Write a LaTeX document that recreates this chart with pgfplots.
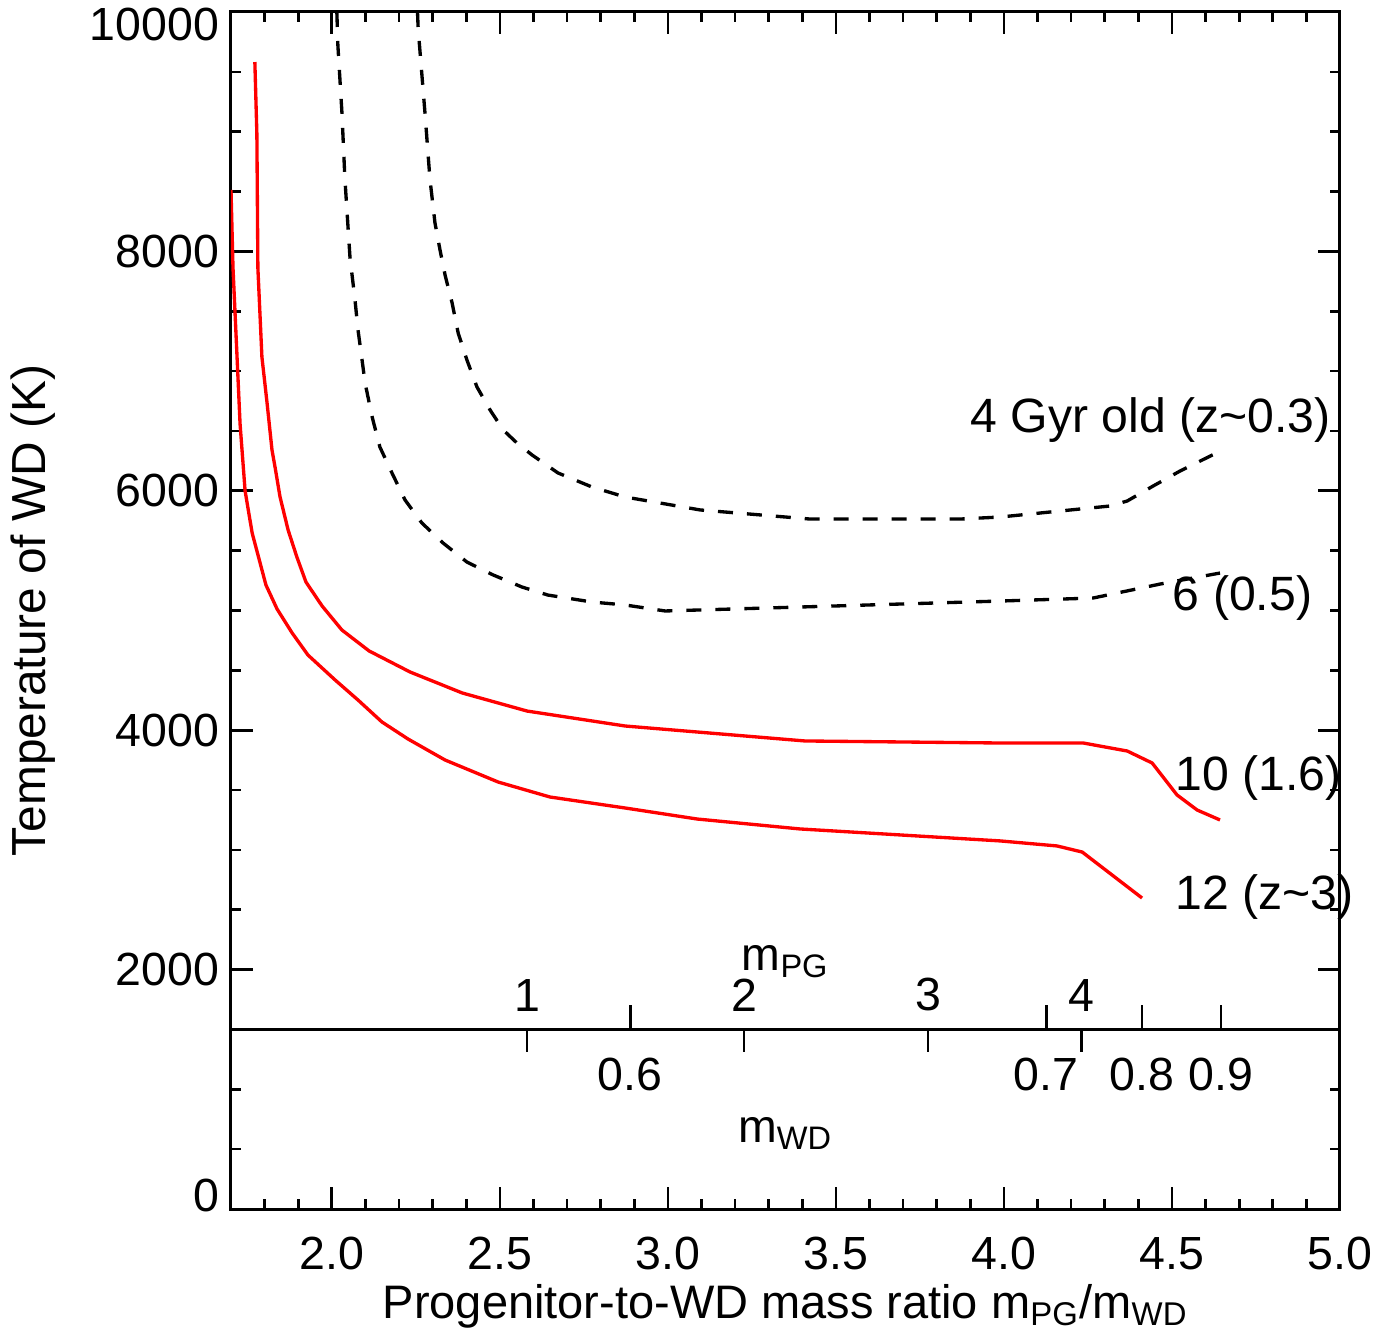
\documentclass[border=0pt]{standalone}
\usepackage{fontspec}
\setmainfont{Liberation Sans}
\usepackage{pgfplots}
\pgfplotsset{compat=1.18}

\begin{document}
\begin{tikzpicture}[font=\fontsize{14}{16.8}\selectfont]
\begin{axis}[
  scale only axis, width=332.7bp, height=359.1bp,
  xmin=1.7, xmax=5, ymin=0, ymax=10000,
  clip mode=individual,
  xtick={2,2.5,3,3.5,4,4.5,5},
  minor xtick={1.8,1.9,2.1,2.2,2.3,2.4,2.6,2.7,2.8,2.9,3.1,3.2,3.3,3.4,3.6,3.7,3.8,3.9,4.1,4.2,4.3,4.4,4.6,4.7,4.8,4.9},
  ytick={0,2000,4000,6000,8000,10000},
  minor ytick={500,1000,1500,2500,3000,3500,4500,5000,5500,6500,7000,7500,8500,9000,9500},
  scaled y ticks=false,
  /pgf/number format/assume math mode=true,
  /pgf/number format/1000 sep={},
  xticklabel style={yshift=-4.9bp, /pgf/number format/.cd, fixed, fixed zerofill, precision=1},
  yticklabel={\ifnum\ticknum=0 \raisebox{4.2bp}[\height][\depth]{0}\else\ifnum\ticknum=5 \raisebox{-3.9bp}[\height][\depth]{10000}\else\pgfmathprintnumber{\tick}\fi\fi},
  major tick length=6.5bp, minor tick length=3bp,
  every tick/.append style={black, line width=0.8bp},
  axis line style={line width=0.9bp},
  xlabel={Progenitor-to-WD mass ratio m\textsubscript{PG}/m\textsubscript{WD}},
  ylabel={Temperature of WD (K)},
  every axis x label/.style={at={(axis description cs:0.5,-0.0911)}, anchor=base, font=\fontsize{14.15}{17}\selectfont},
  every axis y label/.style={at={(axis description cs:-0.1785,0.5)}, anchor=center, rotate=90, font=\fontsize{14.4}{17}\selectfont},
]
% 12 Gyr (z~3)
\addplot[red, line width=1bp] coordinates {
(1.700,8513) (1.706,7861) (1.718,7118) (1.727,6558) (1.742,5998) (1.763,5647)
(1.804,5213) (1.837,5013) (1.882,4812) (1.929,4628) (2.010,4419) (2.078,4252)
(2.149,4069) (2.227,3926) (2.337,3751) (2.495,3567) (2.649,3442) (2.873,3350)
(3.087,3258) (3.393,3175) (3.989,3075) (4.158,3033) (4.233,2982) (4.411,2598)
};
% 10 Gyr (1.6)
\addplot[red, line width=1bp] coordinates {
(1.771,9582) (1.777,8981) (1.780,7861) (1.792,7118) (1.807,6742) (1.822,6341)
(1.831,6199) (1.846,5948) (1.870,5672) (1.896,5447) (1.923,5238) (1.971,5038)
(2.030,4837) (2.111,4662) (2.233,4486) (2.388,4311) (2.581,4160) (2.873,4035)
(3.408,3910) (3.989,3893) (4.236,3893) (4.367,3826) (4.441,3726) (4.515,3459)
(4.575,3333) (4.643,3250)
};
% 6 Gyr (0.5)
\addplot[black, line width=1bp, dash pattern=on 4.5bp off 4.2bp] coordinates {
(2.015,10000) (2.018,9724) (2.030,9165) (2.039,8605) (2.054,7953) (2.069,7594)
(2.078,7343) (2.090,7093) (2.099,6901) (2.120,6617) (2.143,6366) (2.179,6149)
(2.218,5923) (2.268,5731) (2.331,5564) (2.402,5405) (2.480,5297) (2.566,5196)
(2.643,5129) (2.774,5071) (2.873,5046) (2.992,4996) (3.393,5029) (3.989,5079)
(4.265,5104) (4.465,5221) (4.643,5313)
};
% 4 Gyr (0.3)
\addplot[black, line width=1bp, dash pattern=on 4.5bp off 4.2bp] coordinates {
(2.255,10000) (2.257,9858) (2.277,9165) (2.292,8605) (2.307,8237) (2.322,8012)
(2.337,7803) (2.358,7569) (2.376,7318) (2.402,7093) (2.432,6867) (2.471,6675)
(2.510,6508) (2.551,6399) (2.596,6299) (2.673,6149) (2.774,6032) (2.873,5948)
(3.096,5840) (3.423,5764) (3.870,5764) (3.989,5781) (4.316,5873) (4.367,5915)
(4.444,6040) (4.524,6165) (4.638,6324)
};
\node[anchor=base west, inner sep=0pt, font=\fontsize{14.5}{17}\selectfont] at (axis cs:3.899,6491) {4 Gyr old (z\textasciitilde 0.3)};
\node[anchor=base west, inner sep=0pt, font=\fontsize{14.5}{17}\selectfont] at (axis cs:4.501,5004) {6 (0.5)};
\node[anchor=base west, inner sep=0pt, font=\fontsize{14.5}{17}\selectfont] at (axis cs:4.509,3500) {10 (1.6)};
\node[anchor=base west, inner sep=0pt, font=\fontsize{14.5}{17}\selectfont] at (axis cs:4.509,2498) {12 (z\textasciitilde 3)};
\end{axis}

% m_WD scale (below the line at T=1500)
\begin{axis}[
  at={(0,53.865bp)}, anchor=south west,
  scale only axis, width=332.7bp, height=20bp,
  xmin=1.7, xmax=5, ymin=0, ymax=1,
  axis x line=bottom, axis y line=none,
  x axis line style={-, line width=0.9bp},
  xtick={2.888,4.126,4.411,4.646}, xticklabels={0.6,0.7,0.8,0.9},
  xticklabel style={yshift=-5.2bp},
  tick align=inside, major tick length=7.2bp,
  every tick/.append style={black, line width=0.8bp},
  xlabel={m\textsubscript{WD}},
  every axis x label/.style={at={(axis description cs:0.5,0)}, anchor=base, yshift=-33.9bp},
]
\end{axis}

% m_PG scale (above the line at T=1500)
\begin{axis}[
  at={(0,53.865bp)}, anchor=north west,
  scale only axis, width=332.7bp, height=20bp,
  xmin=1.7, xmax=5, ymin=0, ymax=1,
  axis x line=top, axis y line=none,
  x axis line style={-, line width=0.9bp},
  xtick={2.581,3.227,3.774,4.230}, xticklabels={1,2,3,4},
  xticklabel style={yshift=1.9bp},
  tick align=inside, major tick length=6.9bp,
  every tick/.append style={black, line width=0.8bp},
  xlabel={m\textsubscript{PG}},
  every axis x label/.style={at={(axis description cs:0.5,1)}, anchor=base, yshift=17.8bp},
]
\end{axis}

\pgfresetboundingbox
\path[use as bounding box] (-69.3bp,-38.4bp) rectangle (346.5bp,362.7bp);
\end{tikzpicture}
\end{document}
